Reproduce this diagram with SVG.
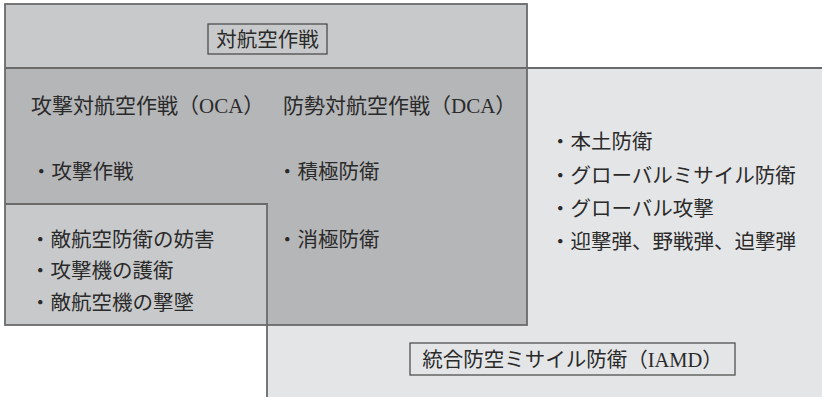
<svg xmlns="http://www.w3.org/2000/svg" width="822" height="397" viewBox="0 0 822 397">
<style>
.t{font-family:"Liberation Serif","Noto Sans CJK JP",serif;font-size:20.5px;fill:#2a2a2a}
.h{font-size:21px}
.edge{fill:none;stroke:#6a6a6a;stroke-width:1.8}
.lbl{fill:none;stroke:#444;stroke-width:1.2}
</style>
<rect width="822" height="397" fill="#ffffff"/>
<g id="counter-air">
<rect x="5" y="4" width="522" height="321" fill="#c8c9cb"/>
</g>
<g id="iamd">
<path d="M5,68 H822 V397 H267 V204 H5 Z" fill="#e4e5e7"/>
</g>
<g id="overlap">
<path d="M5,68 H527 V325 H267 V204 H5 Z" fill="#b5b6b8"/>
</g>
<g id="connectors">
<rect class="edge" x="5" y="4" width="522" height="321"/>
<path class="edge" d="M5,68 H822 M5,204 H267 V397"/>
</g>
<g id="title-counter-air">
<rect class="lbl" x="208" y="24" width="119" height="30"/>
<text class="t" x="267.5" y="46.5" text-anchor="middle">対航空作戦</text>
</g>
<g id="oca">
<text class="t h" x="31" y="113">攻撃対航空作戦（OCA）</text>
<text class="t" x="31" y="179">・攻撃作戦</text>
</g>
<g id="oca-sub">
<text class="t" x="30" y="247">・敵航空防衛の妨害</text>
<text class="t" x="30" y="278">・攻撃機の護衛</text>
<text class="t" x="30" y="310">・敵航空機の撃墜</text>
</g>
<g id="dca">
<text class="t h" x="283" y="113">防勢対航空作戦（DCA）</text>
<text class="t" x="277" y="179">・積極防衛</text>
<text class="t" x="277" y="247">・消極防衛</text>
</g>
<g id="iamd-items">
<text class="t" x="550" y="149">・本土防衛</text>
<text class="t" x="550" y="183">・グローバルミサイル防衛</text>
<text class="t" x="550" y="216">・グローバル攻撃</text>
<text class="t" x="550" y="249">・迎撃弾、野戦弾、迫撃弾</text>
</g>
<g id="title-iamd">
<rect class="lbl" x="410" y="343" width="325" height="32"/>
<text class="t" x="572.5" y="366.5" text-anchor="middle">統合防空ミサイル防衛（IAMD）</text>
</g>
</svg>
